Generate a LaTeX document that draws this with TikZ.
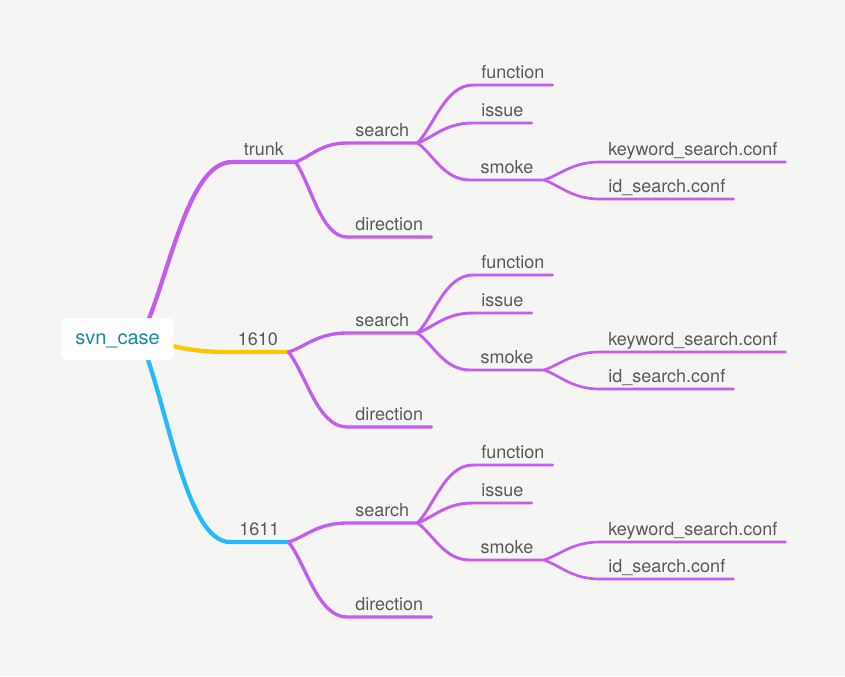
\documentclass[tikz,border=0pt]{standalone}
\usepackage{fontspec}
\setmainfont{TeX Gyre Heros}
\usetikzlibrary{calc}

\definecolor{bgcol}{RGB}{245,246,244}
\definecolor{twig}{RGB}{196,92,240}
\definecolor{amber}{RGB}{255,198,0}
\definecolor{sky}{RGB}{40,185,252}
\definecolor{inkgray}{RGB}{90,90,90}
\definecolor{rootink}{RGB}{27,139,163}

\tikzset{
  topic/.style={anchor=south west, inner xsep=6pt, inner ysep=5pt, text depth=0pt, text=inkgray, font=\fontsize{13.5}{16}\selectfont},
  maintopic/.style={topic, inner xsep=0pt},
  rootbox/.style={fill=white, rounded corners=4.5pt, minimum width=84pt, minimum height=31.5pt, text depth=0pt, text=rootink, font=\fontsize{15}{18}\selectfont},
  branch/.style={to path={.. controls ($(\tikztostart)!0.3!(\tikztotarget)$) and ($(\tikztostart |- \tikztotarget)!0.5!(\tikztotarget)$) .. (\tikztotarget)}},
  lvlone/.style={line width=3.2pt, line cap=round, line join=round},
  lvltwo/.style={twig, line width=2.5pt, line cap=round, line join=round},
  lvlthree/.style={twig, line width=2.2pt, line cap=round, line join=round},
  lvlfour/.style={twig, line width=2pt, line cap=round, line join=round},
}

\begin{document}
\begin{tikzpicture}[x=0.75pt,y=0.75pt,yscale=-1,xscale=1]
        \fill[bgcol] (0,0) rectangle (845,676);
        \coordinate (hub) at (140,339);

        % trunk
        \node[maintopic, minimum width=47.25pt] (trunk) at (232,162) {trunk};
        \node[topic] (trunksearch) at (347,143) {search};
        \node[topic] (trunkdirection) at (347,237) {direction};
        \node[topic] (trunkfunction) at (473,85) {function};
        \node[topic] (trunkissue) at (473,123) {issue};
        \node[topic, minimum width=55pt] (trunksmoke) at (470,180) {smoke};
        \node[topic] (trunkkeyword) at (600,162) {keyword\_search.conf};
        \node[topic] (trunkid) at (600,199) {id\_search.conf};

        % 1610
        \node[maintopic, minimum width=45.75pt] (rsixten) at (227,352) {1610};
        \node[topic] (sixtensearch) at (347,333) {search};
        \node[topic] (sixtendirection) at (347,427) {direction};
        \node[topic] (sixtenfunction) at (473,275) {function};
        \node[topic] (sixtenissue) at (473,313) {issue};
        \node[topic, minimum width=55pt] (sixtensmoke) at (470,370) {smoke};
        \node[topic] (sixtenkeyword) at (600,352) {keyword\_search.conf};
        \node[topic] (sixtenid) at (600,389) {id\_search.conf};

        % 1611
        \node[maintopic, minimum width=43.5pt] (rsixeleven) at (230,542) {1611};
        \node[topic] (elevensearch) at (347,523) {search};
        \node[topic] (elevendirection) at (347,617) {direction};
        \node[topic] (elevenfunction) at (473,465) {function};
        \node[topic] (elevenissue) at (473,503) {issue};
        \node[topic, minimum width=55pt] (elevensmoke) at (470,560) {smoke};
        \node[topic] (elevenkeyword) at (600,542) {keyword\_search.conf};
        \node[topic] (elevenid) at (600,579) {id\_search.conf};

        % main branches
        \draw[lvlone, twig] (hub) to[branch] (trunk.south west) -- (trunk.south east);
        \draw[lvlone, amber] (hub) to[branch] (rsixten.south west) -- (rsixten.south east);
        \draw[lvlone, sky] (hub) to[branch] (rsixeleven.south west) -- (rsixeleven.south east);

        % trunk subtree
        \draw[lvltwo] (trunk.south east) to[branch] (trunksearch.south west) -- (trunksearch.south east);
        \draw[lvltwo] (trunk.south east) to[branch] (trunkdirection.south west) -- (trunkdirection.south east);
        \draw[lvlthree] (trunksearch.south east) to[branch] (trunkfunction.south west) -- (trunkfunction.south east);
        \draw[lvlthree] (trunksearch.south east) to[branch] (trunkissue.south west) -- (trunkissue.south east);
        \draw[lvlthree] (trunksearch.south east) to[branch] (trunksmoke.south west) -- (trunksmoke.south east);
        \draw[lvlfour] (trunksmoke.south east) to[branch] (trunkkeyword.south west) -- (trunkkeyword.south east);
        \draw[lvlfour] (trunksmoke.south east) to[branch] (trunkid.south west) -- (trunkid.south east);

        % 1610 subtree
        \draw[lvltwo] (rsixten.south east) to[branch] (sixtensearch.south west) -- (sixtensearch.south east);
        \draw[lvltwo] (rsixten.south east) to[branch] (sixtendirection.south west) -- (sixtendirection.south east);
        \draw[lvlthree] (sixtensearch.south east) to[branch] (sixtenfunction.south west) -- (sixtenfunction.south east);
        \draw[lvlthree] (sixtensearch.south east) to[branch] (sixtenissue.south west) -- (sixtenissue.south east);
        \draw[lvlthree] (sixtensearch.south east) to[branch] (sixtensmoke.south west) -- (sixtensmoke.south east);
        \draw[lvlfour] (sixtensmoke.south east) to[branch] (sixtenkeyword.south west) -- (sixtenkeyword.south east);
        \draw[lvlfour] (sixtensmoke.south east) to[branch] (sixtenid.south west) -- (sixtenid.south east);

        % 1611 subtree
        \draw[lvltwo] (rsixeleven.south east) to[branch] (elevensearch.south west) -- (elevensearch.south east);
        \draw[lvltwo] (rsixeleven.south east) to[branch] (elevendirection.south west) -- (elevendirection.south east);
        \draw[lvlthree] (elevensearch.south east) to[branch] (elevenfunction.south west) -- (elevenfunction.south east);
        \draw[lvlthree] (elevensearch.south east) to[branch] (elevenissue.south west) -- (elevenissue.south east);
        \draw[lvlthree] (elevensearch.south east) to[branch] (elevensmoke.south west) -- (elevensmoke.south east);
        \draw[lvlfour] (elevensmoke.south east) to[branch] (elevenkeyword.south west) -- (elevenkeyword.south east);
        \draw[lvlfour] (elevensmoke.south east) to[branch] (elevenid.south west) -- (elevenid.south east);

        \node[rootbox] (root) at (117.5,339) {svn\_case};
\end{tikzpicture}
\end{document}
